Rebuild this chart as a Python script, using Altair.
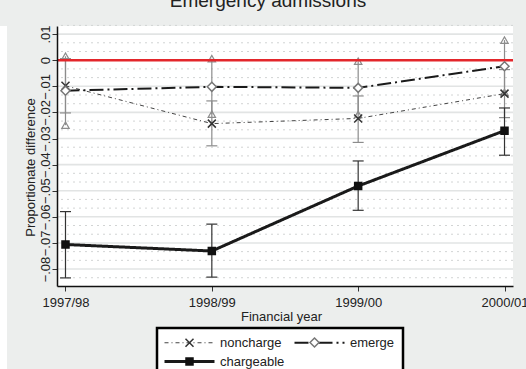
import altair as alt
import pandas as pd

# ---------------- data ----------------
years = ["1997/98", "1998/99", "1999/00", "2000/01"]
series_names = ["noncharge", "emerge", "chargeable"]

noncharge = [-0.0098, -0.0243, -0.0223, -0.0128]
noncharge_lo = [-0.0202, -0.0328, -0.0315, -0.0220]
noncharge_hi = [0.0006, -0.0156, -0.0137, -0.0036]

emerge = [-0.0117, -0.0102, -0.0106, -0.0023]
emerge_lo = [-0.0249, -0.0207, -0.0208, -0.0123]
emerge_hi = [0.0015, 0.0006, -0.0004, 0.0077]

chargeable = [-0.0706, -0.0731, -0.0482, -0.0270]
chargeable_lo = [-0.0834, -0.0831, -0.0575, -0.0364]
chargeable_hi = [-0.0580, -0.0628, -0.0386, -0.0183]

y_ticks = [0.01, 0.0, -0.01, -0.02, -0.03, -0.04, -0.05, -0.06, -0.07, -0.08]
y_minor = [v - k * 0.01 / 3 for v in y_ticks for k in (1, 2)] + [0.01 + 0.01 / 3]

FONT = "Liberation Sans"
TXT = "#222222"

# marker legend uses its own keys so that Vega-Lite keeps it apart from the line legend
marker_keys = [s + " " for s in series_names]

rows = []
for name, mk, vals in zip(series_names, marker_keys, [noncharge, emerge, chargeable]):
    for y, v in zip(years, vals):
        rows.append({"year": y, "series": name, "series_m": mk, "value": v})
df = pd.DataFrame(rows)

def ci_frame(lo, hi):
    return pd.DataFrame({"year": years, "lo": lo, "hi": hi})

ci_nc = ci_frame(noncharge_lo, noncharge_hi)
ci_em = ci_frame(emerge_lo, emerge_hi)
ci_ch = ci_frame(chargeable_lo, chargeable_hi)

# ---------------- scales / axes ----------------
xscale = alt.Scale(type="point", domain=years, padding=0.058)
yscale = alt.Scale(domain=[-0.0865, 0.0131], nice=False, zero=False)

x_axis = alt.Axis(
    title="Financial year", labelAngle=0, grid=False, tickSize=5, tickColor="#333",
    domainColor="#111", domainWidth=1.5, labelFont=FONT, labelFontSize=13,
    labelColor=TXT, labelPadding=5, titleFont=FONT, titleFontSize=13,
    titleFontWeight="normal", titleColor=TXT, titleX=224, titleY=30,
    titleBaseline="middle", titleAlign="center", zindex=1,
)
y_axis = alt.Axis(
    title="Proportionate difference", values=y_ticks, grid=False, tickSize=5,
    tickColor="#333", domainColor="#111", domainWidth=1.5,
    labelExpr="datum.value == 0 ? '0' : replace(format(datum.value, '.2f'), '0.', '.')",
    labelAngle=270, labelAlign="center", labelBaseline="alphabetic", labelPadding=3,
    labelFont=FONT, labelFontSize=13, labelColor=TXT,
    titleFont=FONT, titleFontSize=13, titleFontWeight="normal", titleColor=TXT,
    titleAngle=270, titleX=-27, titleY=141, titleAlign="center", titleBaseline="middle",
    zindex=1,
)

X = alt.X("year:O", scale=xscale, axis=x_axis)

def Y(field):
    return alt.Y(field, scale=yscale, axis=y_axis)

XPATH = "M-0.8,-0.8L0.8,0.8M-0.8,0.8L0.8,-0.8"
DIAMOND = "M0,-0.9L0.9,0L0,0.9L-0.9,0Z"
SQUARE = "M-0.7,-0.7H0.7V0.7H-0.7Z"

legend_common = dict(
    title=None, orient="none", legendX=100, legendY=302, columns=2,
    direction="horizontal", symbolSize=100, labelOffset=24, symbolOffset=18,
    padding=8, rowPadding=5, columnPadding=5, labelFont=FONT, labelFontSize=13,
    labelColor=TXT,
)
line_legend = alt.Legend(symbolType="M-5,0H5", fillColor="white", strokeColor="black",
                         zindex=1, **legend_common)
mk_legend = alt.Legend(labelOpacity=0, zindex=2, **legend_common)

# ---------------- layers ----------------
strip_df = pd.DataFrame({"k": [0]})
left_strip = alt.Chart(strip_df).mark_rect(color="white").encode(
    x=alt.value(-57), x2=alt.value(-50), y=alt.value(0), y2=alt.value(343))

minor_grid = alt.Chart(pd.DataFrame({"g": y_minor})).mark_rule(
    color="#d2d4d4", strokeWidth=1, strokeDash=[2, 4]
).encode(y=Y("g:Q"))
major_grid = alt.Chart(pd.DataFrame({"g": y_ticks})).mark_rule(
    color="#e2e4e4", strokeWidth=1.6
).encode(y=Y("g:Q"))

def ci_layers(ci, color, caps=True, tri=False):
    base = alt.Chart(ci)
    out = [base.mark_rule(color=color, strokeWidth=1.2).encode(
        x=X, y=Y("lo:Q"), y2="hi:Q")]
    if caps:
        for f in ("lo", "hi"):
            out.append(base.mark_tick(color=color, thickness=1.2, size=11, opacity=1).encode(
                x=X, y=Y(f"{f}:Q")))
    if tri:
        for f in ("lo", "hi"):
            out.append(base.mark_point(shape="triangle-up", size=55, filled=False, color=color,
                                       strokeWidth=1.2, opacity=1).encode(
                x=X, y=Y(f"{f}:Q")))
    return out

ci_all = ci_layers(ci_em, "#8c8c8c", caps=False, tri=True) + \
    ci_layers(ci_nc, "#8c8c8c") + ci_layers(ci_ch, "#333333")

red = alt.Chart(strip_df).mark_rule(color="#e3262b", strokeWidth=2.6).encode(
    y=alt.Y(datum=0, scale=yscale, axis=y_axis))

lines = alt.Chart(df).mark_line().encode(
    x=X, y=Y("value:Q"),
    color=alt.Color("series:N", scale=alt.Scale(domain=series_names,
                    range=["#444444", "#1a1a1a", "#1a1a1a"]), legend=line_legend),
    strokeDash=alt.StrokeDash("series:N", scale=alt.Scale(domain=series_names,
                    range=[[4, 3, 1, 3], [14, 4, 2, 4], [1, 0]]), legend=line_legend),
    strokeWidth=alt.StrokeWidth("series:N", scale=alt.Scale(domain=series_names,
                    range=[1, 3, 2.5]), legend=line_legend),
)

points = alt.Chart(df).mark_point(size=100, strokeWidth=1.5, opacity=1).encode(
    x=X, y=Y("value:Q"),
    shape=alt.Shape("series_m:N", scale=alt.Scale(domain=marker_keys,
                    range=[XPATH, DIAMOND, SQUARE]), legend=mk_legend),
    stroke=alt.Stroke("series_m:N", scale=alt.Scale(domain=marker_keys,
                    range=["#333333", "#777777", "#111111"]), legend=mk_legend),
    fill=alt.Fill("series_m:N", scale=alt.Scale(domain=marker_keys,
                    range=["transparent", "white", "#111111"]), legend=mk_legend),
)

chart = alt.layer(
    left_strip, minor_grid, major_grid, *ci_all, red, lines, points
).properties(
    width=456, height=260,
    padding={"left": 57, "top": 26, "right": 13, "bottom": 83},
    autosize=alt.AutoSizeParams(type="none"),
    title=alt.Title("Emergency admissions", fontSize=19, font=FONT, color=TXT,
                    fontWeight="normal", anchor="middle", frame="group", offset=14,
                    dx=-17),
).configure(background="#eceeed").configure_view(fill="white", strokeWidth=0
).configure_legend(strokeWidth=2.5)

chart.save("out.html", embed_options={"renderer": "svg", "actions": False})
